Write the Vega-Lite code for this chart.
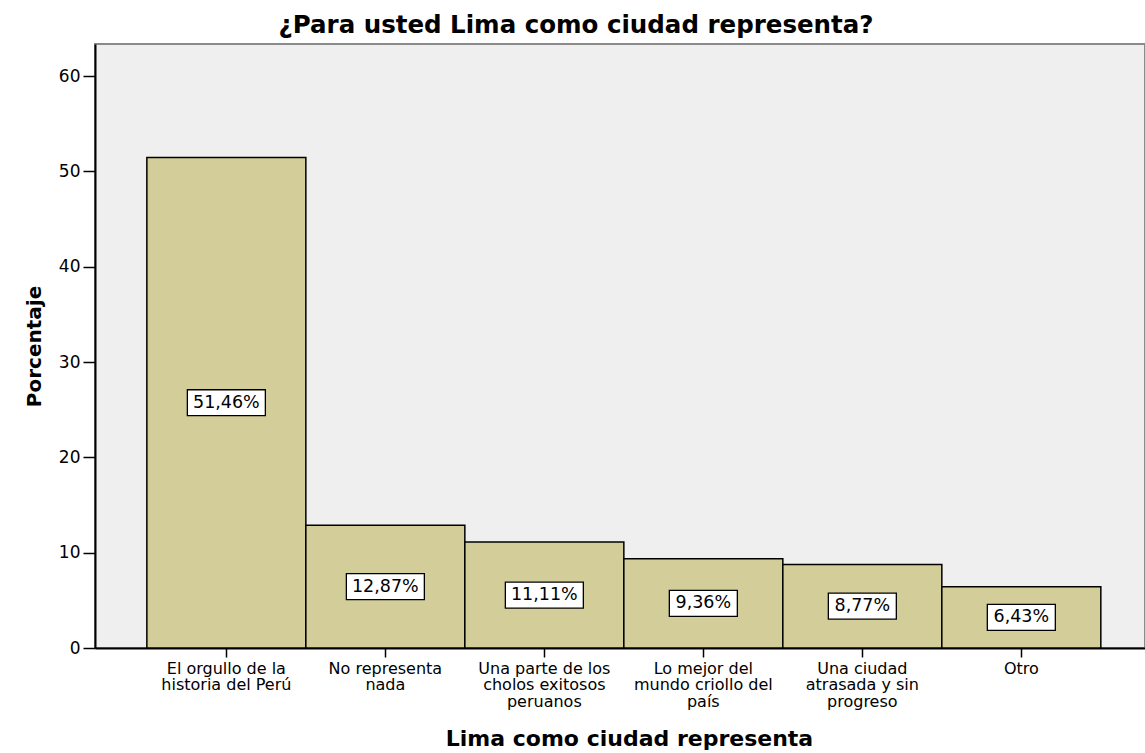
{
  "$schema": "https://vega.github.io/schema/vega-lite/v6.json",
  "width": 1050,
  "height": 604,
  "autosize": {"type": "none"},
  "padding": {"left": 95, "top": 44, "right": 0, "bottom": 105},
  "background": "white",
  "config": {
    "font": "DejaVu Sans",
    "view": {"fill": "#EFEFEF", "stroke": "#8A8A8A", "strokeWidth": 2}
  },
  "title": {
    "text": "¿Para usted Lima como ciudad representa?",
    "font": "DejaVu Sans",
    "fontSize": 24.5,
    "fontWeight": "bold",
    "color": "black",
    "anchor": "middle",
    "dx": -44,
    "offset": 6
  },
  "data": {
    "values": [
      {"categoria": "El orgullo de la|historia del Perú", "porcentaje": 51.46, "etiqueta": "51,46%"},
      {"categoria": "No representa|nada", "porcentaje": 12.87, "etiqueta": "12,87%"},
      {"categoria": "Una parte de los|cholos exitosos|peruanos", "porcentaje": 11.11, "etiqueta": "11,11%"},
      {"categoria": "Lo mejor del|mundo criollo del|país", "porcentaje": 9.36, "etiqueta": "9,36%"},
      {"categoria": "Una ciudad|atrasada y sin|progreso", "porcentaje": 8.77, "etiqueta": "8,77%"},
      {"categoria": "Otro", "porcentaje": 6.43, "etiqueta": "6,43%"}
    ]
  },
  "encoding": {
    "x": {
      "field": "categoria",
      "type": "nominal",
      "sort": null,
      "scale": {"paddingInner": 0, "paddingOuter": 0.302, "align": 0.54},
      "axis": {
        "title": "Lima como ciudad representa",
        "titleFont": "DejaVu Sans",
        "titleFontSize": 22,
        "titleFontWeight": "bold",
        "titleColor": "black",
        "titleBaseline": "alphabetic",
        "titleY": 97,
        "titleX": 534,
        "labelExpr": "split(datum.label, '|')",
        "labelAngle": 0,
        "labelFont": "DejaVu Sans",
        "labelFontSize": 16,
        "labelLineHeight": 16.5,
        "labelColor": "black",
        "labelPadding": 3,
        "labelBaseline": "top",
        "tickColor": "black",
        "tickSize": 9,
        "tickWidth": 1.5,
        "domainColor": "black",
        "domainWidth": 2
      }
    }
  },
  "layer": [
    {
      "mark": {"type": "bar", "fill": "#D3CE99", "stroke": "black", "strokeWidth": 1.5},
      "encoding": {
        "y": {
          "field": "porcentaje",
          "type": "quantitative",
          "scale": {"domain": [0, 63.36], "nice": false},
          "axis": {
            "title": "Porcentaje",
            "titleFont": "DejaVu Sans",
            "titleFontSize": 20,
            "titleFontWeight": "bold",
            "titleColor": "black",
            "titlePadding": 14,
            "values": [0, 10, 20, 30, 40, 50, 60],
            "grid": false,
            "labelFont": "DejaVu Sans",
            "labelFontSize": 17,
            "labelColor": "black",
            "labelPadding": 3,
            "tickColor": "black",
            "tickSize": 12,
            "tickWidth": 1.5,
            "domainColor": "black",
            "domainWidth": 2
          }
        }
      }
    },
    {
      "mark": {"type": "point", "filled": true, "fill": "white", "stroke": "black", "strokeWidth": 1.3, "opacity": 1},
      "encoding": {
        "y": {"field": "porcentaje", "type": "quantitative", "scale": {"domain": [0, 126.72], "nice": false}, "axis": null},
        "shape": {
          "condition": {"test": "length(datum.etiqueta) > 5", "value": "M-1,-0.333H1V0.333H-1Z"},
          "value": "M-1,-0.382H1V0.382H-1Z"
        },
        "size": {
          "condition": {"test": "length(datum.etiqueta) > 5", "value": 6084},
          "value": 4624
        }
      }
    },
    {
      "mark": {"type": "text", "font": "DejaVu Sans", "fontSize": 17.5, "color": "black", "baseline": "middle", "align": "center"},
      "encoding": {
        "y": {"field": "porcentaje", "type": "quantitative", "scale": {"domain": [0, 126.72], "nice": false}, "axis": null},
        "text": {"field": "etiqueta"}
      }
    }
  ],
  "resolve": {"scale": {"y": "independent"}}
}
